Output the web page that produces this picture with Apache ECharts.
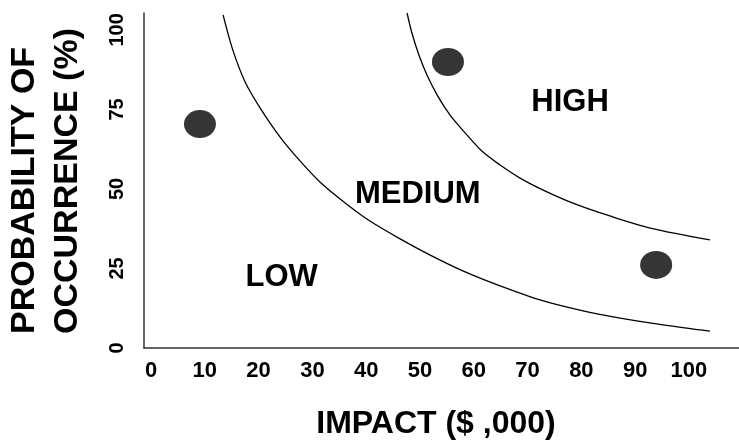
<!DOCTYPE html>
<html>
<head>
<meta charset="utf-8">
<script src="https://cdn.jsdelivr.net/npm/echarts@6/dist/echarts.min.js"></script>
<style>
html,body{margin:0;padding:0;background:#fff;}
#chart{width:739px;height:441px;}
</style>
</head>
<body>
<div id="chart"></div>
<script>
// ---- data ----
const impactTicks = [0, 10, 20, 30, 40, 50, 60, 70, 80, 90, 100];
const probabilityTicks = [0, 25, 50, 75, 100];
const xTitle = 'IMPACT ($ ,000)';
const yTitle = 'PROBABILITY OF\nOCCURRENCE (%)';

// boundary between LOW and MEDIUM (impact, probability)
const lowMediumBoundary = [
  [13.4, 104.7], [15.2, 93.7], [17.5, 83.6], [20.3, 75.4], [24.0, 66.3],
  [27.7, 58.8], [31.4, 52.2], [36.1, 45.6], [40.7, 39.9], [46.3, 34.3],
  [51.9, 29.2], [58.4, 23.9], [64.9, 19.5], [72.3, 15.1], [79.7, 11.9],
  [87.2, 9.4], [95.5, 7.2], [103.9, 5.3]
];
// boundary between MEDIUM and HIGH
const mediumHighBoundary = [
  [47.6, 105.3], [48.5, 99.0], [49.8, 92.1], [51.3, 85.8], [53.2, 79.5],
  [55.6, 73.2], [58.4, 67.6], [61.5, 61.9], [64.9, 57.5], [68.6, 53.4],
  [73.2, 49.4], [78.8, 45.3], [85.3, 41.5], [92.8, 37.7], [103.9, 34.0]
];
// risks (impact, probability)
const risks = [[9.1, 70.4], [55.2, 89.9], [93.9, 26.1]];
// zone labels
const zoneNames = ['LOW', 'MEDIUM', 'HIGH'];
const zoneCenters = [[24.3, 22.1], [49.6, 48.3], [77.9, 77.3]];

// ---- chart ----
const FONT = "'Liberation Sans', Arial, Helvetica, sans-serif";
const chart = echarts.init(document.getElementById('chart'), null, {renderer: 'canvas'});
chart.setOption({
  animation: false,
  backgroundColor: '#ffffff',
  grid: {left: 144, right: 0, top: 13, bottom: 93, containLabel: false, outerBoundsMode: 'none'},
  graphic: [{
    type: 'text', x: 3, y: 334, rotation: Math.PI / 2, silent: true,
    style: {
      text: yTitle, fill: '#000', align: 'left', verticalAlign: 'top',
      font: "bold 34px " + FONT, lineHeight: 43
    }
  }],
  xAxis: {
    type: 'value', min: -1.3, max: 109.3,
    name: xTitle, nameLocation: 'middle', nameGap: 60,
    nameTextStyle: {fontFamily: FONT, fontWeight: 'bold', fontSize: 32, color: '#000', padding: [0, 11, 0, 0]},
    axisLine: {show: true, onZero: false, lineStyle: {color: '#333', width: 1.5}},
    axisTick: {show: false},
    splitLine: {show: false},
    axisLabel: {
      customValues: impactTicks, margin: 12,
      fontFamily: FONT, fontWeight: 'bold', fontSize: 22, color: '#000'
    }
  },
  yAxis: {
    type: 'value', min: 0, max: 105.3,
    axisLine: {show: true, onZero: false, lineStyle: {color: '#333', width: 1.5}},
    axisTick: {show: false},
    splitLine: {show: false},
    axisLabel: {
      customValues: probabilityTicks, rotate: 90, margin: 17,
      fontFamily: FONT, fontWeight: 'bold', fontSize: 20, color: '#000'
    }
  },
  series: [
    {
      type: 'line', data: lowMediumBoundary, smooth: 0.3,
      showSymbol: false, symbol: 'none', clip: true,
      lineStyle: {color: '#000', width: 1.3}, silent: true
    },
    {
      type: 'line', data: mediumHighBoundary, smooth: 0.3,
      showSymbol: false, symbol: 'none', clip: true,
      lineStyle: {color: '#000', width: 1.3}, silent: true
    },
    {
      type: 'scatter', data: risks, symbol: 'circle', symbolSize: [32, 28],
      itemStyle: {color: '#353535', opacity: 1}
    },
    {
      type: 'scatter', symbolSize: 1,
      data: zoneCenters.map((c, i) => ({value: c, name: zoneNames[i]})),
      itemStyle: {color: 'rgba(0,0,0,0)', opacity: 1},
      label: {
        show: true, position: 'inside', formatter: '{b}',
        fontFamily: FONT, fontWeight: 'bold', fontSize: 31, color: '#000'
      }
    }
  ]
});
</script>
</body>
</html>
